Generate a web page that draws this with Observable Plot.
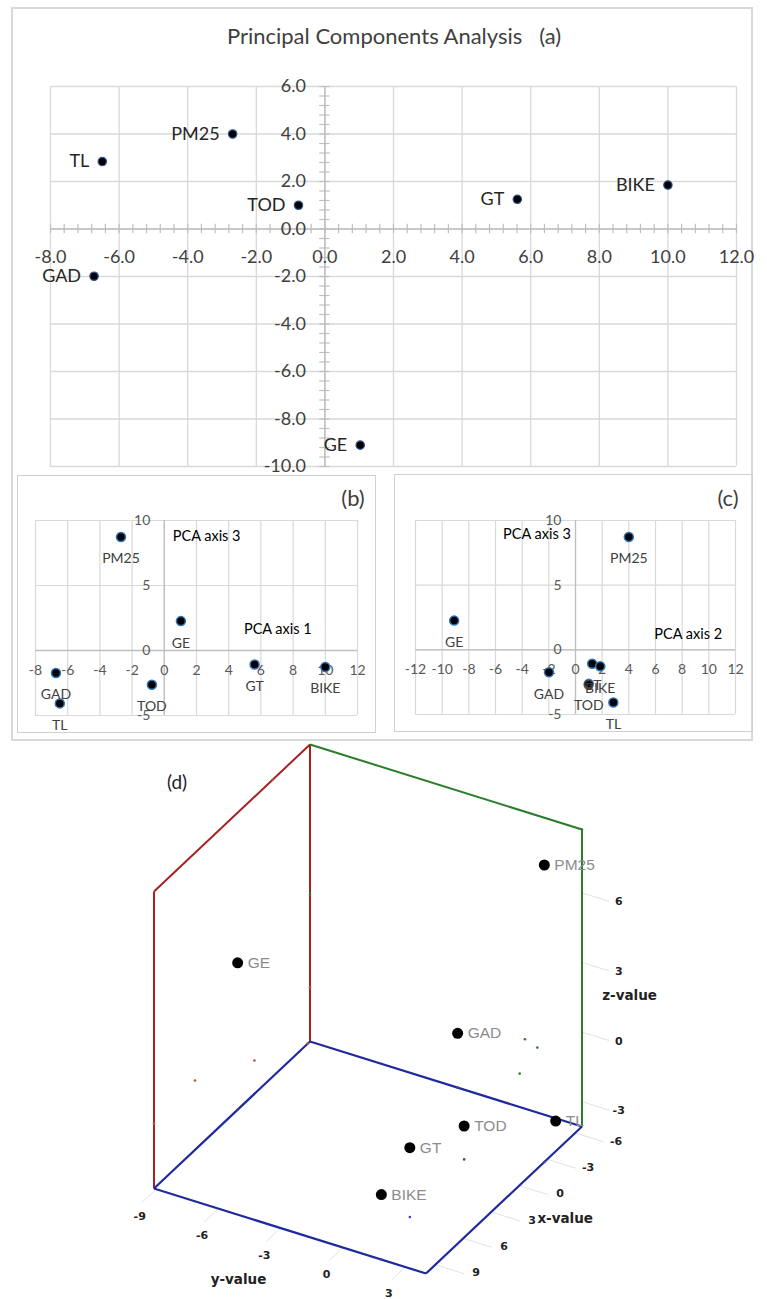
<!DOCTYPE html>
<html><head><meta charset="utf-8">
<script src="https://cdn.jsdelivr.net/npm/d3@7"></script>
<script src="https://cdn.jsdelivr.net/npm/@observablehq/plot@0.6"></script>
<style>
body{margin:0;background:#fff}
#root{position:relative;width:767px;height:1299px;overflow:hidden;background:#fff}
.box{position:absolute;box-sizing:border-box}
.lbl{position:absolute;transform:translate(-50%,-50%);white-space:nowrap;line-height:1}
svg{overflow:visible}
</style></head><body><div id="root"></div>
<script>
// ---- data ----
const names = ["PM25", "TL", "TOD", "GT", "BIKE", "GAD", "GE"];
const pca1  = [-2.69, -6.49, -0.77, 5.61, 10.0, -6.73, 1.03];
const pca2  = [4.00, 2.84, 1.00, 1.25, 1.85, -1.99, -9.10];
const pca3  = [8.73, -4.07, -2.63, -1.08, -1.27, -1.73, 2.26];

const ticksAx = [-8, -6, -4, -2, 0, 2, 4, 6, 8, 10, 12];
const ticksAy = [-10, -8, -6, -4, -2, 0, 2, 4, 6];
const ticksBx = [-8, -6, -4, -2, 0, 2, 4, 6, 8, 10, 12];
const ticksBy = [-5, 0, 5, 10];
const ticksCx = [-12, -10, -8, -6, -4, -2, 0, 2, 4, 6, 8, 10, 12];
const ticksCy = [-5, 0, 5, 10];
const ticksDx = [-6, -3, 0, 3, 6, 9];
const ticksDy = [-9, -6, -3, 0, 3];
const ticksDz = [-3, 0, 3, 6];

const titleA = "Principal Components Analysis \u00a0\u00a0(a)";

const rows = names.map((n, i) => ({name: n, p1: pca1[i], p2: pca2[i], p3: pca3[i]}));

const root = document.getElementById("root");
function put(el, left, top) { el.style.position = "absolute"; el.style.left = left + "px"; el.style.top = top + "px"; root.appendChild(el); }
function box(l, t, w, h, border) { const d = document.createElement("div"); d.className = "box"; Object.assign(d.style, {left: l + "px", top: t + "px", width: w + "px", height: h + "px", border}); root.appendChild(d); }
function label(text, cx, cy, css) { const d = document.createElement("div"); d.className = "lbl"; d.textContent = text; Object.assign(d.style, {left: cx + "px", top: cy + "px"}, css); root.appendChild(d); }

const fontXL = "Lato, 'Open Sans', sans-serif";
const GRID = "#d9d9d9", AXIS = "#bfbfbf";

// frames
box(11, 7, 742, 734, "2px solid #d9d9d9");
box(17, 475, 359, 258, "1.5px solid #d0d0d0");
box(394, 474, 359, 258, "1.5px solid #d0d0d0");
label(titleA, 394, 36, {fontFamily: fontXL, fontSize: "22px", color: "#404040"});

// ---- panel (a) ----
const minorAx = d3.range(-8, 12.001, 0.4);
const minorAy = d3.range(-10, 6.001, 0.4);
const plotA = Plot.plot({
  width: 767, height: 480, marginLeft: 50, marginRight: 31, marginTop: 86, marginBottom: 14,
  x: {domain: [-8, 12], axis: null}, y: {domain: [-10, 6], axis: null},
  style: {background: "transparent", fontFamily: fontXL, overflow: "visible"},
  marks: [
    Plot.ruleX(ticksAx, {stroke: GRID, strokeWidth: 1.3}),
    Plot.ruleY(ticksAy, {stroke: GRID, strokeWidth: 1.3}),
    Plot.ruleX([0], {stroke: AXIS, strokeWidth: 1.5}),
    Plot.ruleY([0], {stroke: AXIS, strokeWidth: 1.5}),
    Plot.ruleX(minorAx, {y1: -0.2, y2: 0.2, stroke: AXIS, strokeWidth: 1.2}),
    Plot.ruleY(minorAy, {x1: -0.15, x2: 0.15, stroke: AXIS, strokeWidth: 1.2}),
    Plot.text(ticksAx, {x: d => d, y: 0, dy: 28, text: d => d.toFixed(1), fontSize: 18, fill: "#404040"}),
    Plot.text(ticksAy, {x: 0, y: d => d, dx: -19, textAnchor: "end", text: d => d.toFixed(1), fontSize: 18, fill: "#404040"}),
    Plot.dot(rows, {x: "p1", y: "p2", r: 4.2, fill: "black", stroke: "#2f5597", strokeWidth: 1.2}),
    Plot.text(rows, {x: "p1", y: "p2", text: "name", textAnchor: "end", dx: -13, fontSize: 18, fill: "#262626"})
  ]
});
put(plotA, 0, 0);

// ---- panel (b) ----
const plotB = Plot.plot({
  width: 380, height: 260, marginLeft: 35, marginRight: 23, marginTop: 45, marginBottom: 20,
  x: {domain: [-8, 12], axis: null}, y: {domain: [-5, 10], axis: null},
  style: {background: "transparent", fontFamily: fontXL, overflow: "visible"},
  marks: [
    Plot.ruleX(ticksBx, {stroke: GRID, strokeWidth: 1.2}),
    Plot.ruleY(ticksBy, {stroke: GRID, strokeWidth: 1.2}),
    Plot.ruleX([0], {stroke: AXIS, strokeWidth: 1.3}),
    Plot.ruleY([0], {stroke: AXIS, strokeWidth: 1.3}),
    Plot.text(ticksBx, {x: d => d, y: 0, dy: 20, text: d => String(d), fontSize: 14, fill: "#595959"}),
    Plot.text(ticksBy, {x: 0, y: d => d, dx: -14, textAnchor: "end", text: d => String(d), fontSize: 14, fill: "#595959"}),
    Plot.dot(rows, {x: "p1", y: "p3", r: 4.5, fill: "black", stroke: "#2e75b6", strokeWidth: 1.5}),
    Plot.text(rows, {x: "p1", y: "p3", text: "name", dy: 22, fontSize: 14, fill: "#404040"}),
    Plot.text(["PCA axis 3"], {x: 2.63, y: 8.77, text: d => d, fontSize: 14.5, fill: "#000"}),
    Plot.text(["PCA axis 1"], {x: 7.05, y: 1.64, text: d => d, fontSize: 14.5, fill: "#000"})
  ]
});
put(plotB, 0, 475);
label("(b)", 353, 498, {fontFamily: fontXL, fontSize: "22px", color: "#404040"});

// ---- panel (c) ----
const plotC = Plot.plot({
  width: 360, height: 260, marginLeft: 21, marginRight: 19, marginTop: 45, marginBottom: 21,
  x: {domain: [-12, 12], axis: null}, y: {domain: [-5, 10], axis: null},
  style: {background: "transparent", fontFamily: fontXL, overflow: "visible"},
  marks: [
    Plot.ruleX(ticksCx, {stroke: GRID, strokeWidth: 1.2}),
    Plot.ruleY(ticksCy, {stroke: GRID, strokeWidth: 1.2}),
    Plot.ruleX([0], {stroke: AXIS, strokeWidth: 1.3}),
    Plot.ruleY([0], {stroke: AXIS, strokeWidth: 1.3}),
    Plot.text(ticksCx, {x: d => d, y: 0, dy: 20, text: d => String(d), fontSize: 14, fill: "#595959"}),
    Plot.text(ticksCy, {x: 0, y: d => d, dx: -14, textAnchor: "end", text: d => String(d), fontSize: 14, fill: "#595959"}),
    Plot.dot(rows, {x: "p2", y: "p3", r: 4.5, fill: "black", stroke: "#2e75b6", strokeWidth: 1.5}),
    Plot.text(rows, {x: "p2", y: "p3", text: "name", dy: 22, fontSize: 14, fill: "#404040"}),
    Plot.text(["PCA axis 3"], {x: -2.89, y: 8.95, text: d => d, fontSize: 14.5, fill: "#000"}),
    Plot.text(["PCA axis 2"], {x: 8.45, y: 1.23, text: d => d, fontSize: 14.5, fill: "#000"})
  ]
});
put(plotC, 394, 475);
label("(c)", 728, 498, {fontFamily: fontXL, fontSize: "22px", color: "#404040"});

// ---- panel (d): 3D scatter, orthographic camera ----
const xr = d3.extent(pca1), yr = d3.extent(pca2), zr = d3.extent(pca3);
const xs = xr[1] - xr[0], ys = yr[1] - yr[0], zs = zr[1] - zr[0];
const camera = {origin: [309.5, 300], xVec: [-156, 147], yVec: [272, 85], zLen: 297};
function proj(x, y, z) {
  const u = (x - xr[0]) / xs, v = (y - yr[0]) / ys, w = (z - zr[0]) / zs;
  return [camera.origin[0] + u * camera.xVec[0] + v * camera.yVec[0],
          camera.origin[1] + u * camera.xVec[1] + v * camera.yVec[1] - w * camera.zLen];
}
const [x0, x1] = xr, [y0, y1] = yr, [z0, z1] = zr;
function seg(a, b) { const p = proj(...a), q = proj(...b); return {sx1: p[0], sy1: p[1], sx2: q[0], sy2: q[1]}; }
const redEdges = [seg([x1, y0, z0], [x1, y0, z1]), seg([x1, y0, z1], [x0, y0, z1]), seg([x0, y0, z0], [x0, y0, z1])];
const greenEdges = [seg([x0, y0, z1], [x0, y1, z1]), seg([x0, y1, z1], [x0, y1, z0])];
const blueEdges = [seg([x0, y0, z0], [x1, y0, z0]), seg([x1, y0, z0], [x1, y1, z0]), seg([x1, y1, z0], [x0, y1, z0]), seg([x0, y1, z0], [x0, y0, z0])];
const tickSegs = [
  ...ticksDx.map(v => seg([v, y1, z0], [v, y1 + 0.105 * ys, z0])),
  ...ticksDy.map(v => seg([x1, v, z0], [x1 + 0.09 * xs, v, z0])),
  ...ticksDz.map(v => seg([x0, y1, v], [x0, y1 + 0.1 * ys, v]))
];
const pt = f => rows.map(r => { const p = f(r); return {...r, sx: p[0], sy: p[1]}; });
const projRed = pt(r => proj(r.p1, y0, r.p3));
const projGreen = pt(r => proj(x0, r.p2, r.p3));
const projBlue = pt(r => proj(r.p1, r.p2, z0));
const pts3 = pt(r => proj(r.p1, r.p2, r.p3));
const tick = (vals, f) => vals.map(v => { const p = f(v); return {t: String(v), sx: p[0], sy: p[1]}; });
const xLabs = tick(ticksDx, v => proj(v, y1 + 0.15 * ys, z0));
const yLabs = tick(ticksDy, v => proj(x1 + 0.105 * xs, v, z0));
const zLabs = tick(ticksDz, v => proj(x0, y1 + 0.135 * ys, v));
const titles = [
  {t: "x-value", p: proj((x0 + x1) / 2, y1 + 0.225 * ys, z0)},
  {t: "y-value", p: proj(x1 + 0.33 * xs, (y0 + y1) / 2, z0)},
  {t: "z-value", p: proj(x0, y1 + 0.175 * ys, z0 + 0.49 * zs)}
].map(d => ({t: d.t, sx: d.p[0], sy: d.p[1]}));

const fontD = "'DejaVu Sans', Verdana, sans-serif";
const fontLab = "'Liberation Sans Narrow', 'Arial Narrow', 'Liberation Sans', Arial, sans-serif";
const link = (data, stroke, w) => Plot.link(data, {x1: "sx1", y1: "sy1", x2: "sx2", y2: "sy2", stroke, strokeWidth: w});
const plotD = Plot.plot({
  width: 767, height: 558, margin: 0,
  x: {domain: [0, 767], range: [0, 767], axis: null},
  y: {domain: [0, 558], range: [0, 558], axis: null},
  style: {background: "transparent", overflow: "visible"},
  marks: [
    link(tickSegs, "#e2e2e2", 1),
    link(redEdges, "#a52222", 2),
    link(greenEdges, "#2a7d2a", 2),
    link(blueEdges, "#1f2a9c", 2.2),
    Plot.dot(projRed, {x: "sx", y: "sy", r: 1.3, fill: "#b0563f"}),
    Plot.dot(projGreen, {x: "sx", y: "sy", r: 1.3, fill: "#2e7d32"}),
    Plot.dot(projBlue, {x: "sx", y: "sy", r: 1.3, fill: "#4444a8"}),
    Plot.dot(pts3, {x: "sx", y: "sy", r: 5.5, fill: "black"}),
    Plot.text(pts3, {x: "sx", y: "sy", text: "name", textAnchor: "start", dx: 10, fill: "#8c8c8c", fontSize: 15.5, fontFamily: fontLab}),
    Plot.text(xLabs, {x: "sx", y: "sy", dy: -4.5, text: "t", fontSize: 11, fontWeight: "bold", fontFamily: fontD, fill: "#222"}),
    Plot.text(yLabs, {x: "sx", y: "sy", dy: 11.5, text: "t", fontSize: 11, fontWeight: "bold", fontFamily: fontD, fill: "#222"}),
    Plot.text(zLabs, {x: "sx", y: "sy", dy: -2.5, text: "t", fontSize: 11, fontWeight: "bold", fontFamily: fontD, fill: "#222"}),
    Plot.text(titles, {x: "sx", y: "sy", text: "t", fontSize: 13.5, fontWeight: "bold", fontFamily: fontD, fill: "#222"})
  ]
});
put(plotD, 0, 741);
label("(d)", 177, 781, {fontFamily: fontXL, fontSize: "19px", color: "#222"});
</script></body></html>
